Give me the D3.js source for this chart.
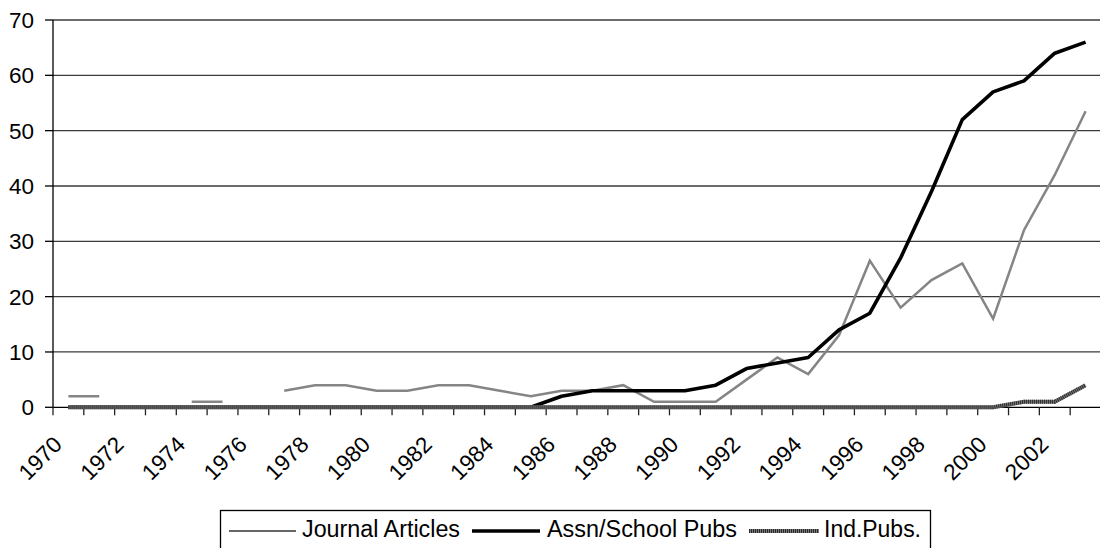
<!DOCTYPE html>
<html>
<head>
<meta charset="utf-8">
<script src="https://cdn.jsdelivr.net/npm/d3@7"></script>
<style>
  html, body { margin: 0; padding: 0; background: #fff; }
  svg { display: block; }
  text { font-family: "Liberation Sans", Arial, sans-serif; fill: #000; }
</style>
</head>
<body>
<svg id="chart" width="1100" height="548"></svg>
<script>
const years = d3.range(1970, 2004).map(String);
const yearLabels = years.filter((d, i) => i % 2 === 0);
const yTicks = [0, 10, 20, 30, 40, 50, 60, 70];

const journalArticles = [2, 2, null, null, 1, 1, null, 3, 4, 4, 3, 3, 4, 4, 3, 2, 3, 3, 4, 1, 1, 1, 5, 9, 6, 13, 26.5, 18, 23, 26, 16, 32, 42, 53.5];
const assnSchoolPubs = [0, 0, 0, 0, 0, 0, 0, 0, 0, 0, 0, 0, 0, 0, 0, 0, 2, 3, 3, 3, 3, 4, 7, 8, 9, 14, 17, 27, 39, 52, 57, 59, 64, 66];
const indPubs = [0, 0, 0, 0, 0, 0, 0, 0, 0, 0, 0, 0, 0, 0, 0, 0, 0, 0, 0, 0, 0, 0, 0, 0, 0, 0, 0, 0, 0, 0, 0, 1, 1, 4];
const seriesNames = ["Journal Articles", "Assn/School Pubs", "Ind.Pubs."];

const svg = d3.select("#chart");
const plotLeft = 53, plotRight = 1101, plotTop = 20, plotBottom = 407.3;

const x = d3.scaleBand().domain(years).range([plotLeft, plotRight]).paddingInner(0).paddingOuter(0);
const y = d3.scaleLinear().domain([0, 70]).range([plotBottom, plotTop]);
const cx = d => x(d) + x.bandwidth() / 2;

// gridlines
svg.append("g").selectAll("line").data(yTicks.filter(v => v > 0)).join("line")
  .attr("x1", plotLeft).attr("x2", 1100)
  .attr("y1", d => y(d)).attr("y2", d => y(d))
  .attr("stroke", "#3a3a3a").attr("stroke-width", 1.3);

// y axis
svg.append("line").attr("x1", plotLeft).attr("x2", plotLeft).attr("y1", y(70)).attr("y2", y(0))
  .attr("stroke", "#000").attr("stroke-width", 1.3);
svg.append("g").selectAll("line").data(yTicks).join("line")
  .attr("x1", plotLeft - 8).attr("x2", plotLeft)
  .attr("y1", d => y(d)).attr("y2", d => y(d))
  .attr("stroke", "#000").attr("stroke-width", 1.3);
svg.append("g").selectAll("text").data(yTicks).join("text")
  .attr("x", 34).attr("y", d => y(d)).attr("dy", "0.36em")
  .attr("text-anchor", "end").attr("font-size", 22.5).text(d => d);

// x axis
svg.append("line").attr("x1", plotLeft).attr("x2", 1100).attr("y1", y(0)).attr("y2", y(0))
  .attr("stroke", "#000").attr("stroke-width", 1.3);
const tickPos = years.map(d => x(d)).concat([x(years[years.length - 1]) + x.bandwidth()]);
svg.append("g").selectAll("line").data(tickPos).join("line")
  .attr("x1", d => d).attr("x2", d => d)
  .attr("y1", y(0)).attr("y2", y(0) + 8)
  .attr("stroke", "#222").attr("stroke-width", 1.3);
svg.append("g").selectAll("text").data(yearLabels).join("text")
  .attr("transform", d => `translate(${cx(d) - 5},446) rotate(-45)`)
  .attr("text-anchor", "end").attr("font-size", 22.5).text(d => d);

// lines
const line = d3.line().defined(d => d.v != null).x(d => cx(d.year)).y(d => y(d.v));
const toPts = arr => years.map((yr, i) => ({ year: yr, v: arr[i] }));

svg.append("path").datum(toPts(journalArticles)).attr("d", line)
  .attr("fill", "none").attr("stroke", "#858585").attr("stroke-width", 2.5)
  .attr("stroke-linejoin", "miter");
svg.append("path").datum(toPts(assnSchoolPubs)).attr("d", line)
  .attr("fill", "none").attr("stroke", "#000").attr("stroke-width", 3.6)
  .attr("stroke-linejoin", "round");
svg.append("path").datum(toPts(indPubs)).attr("d", line)
  .attr("fill", "none").attr("stroke", "#7a7a7a").attr("stroke-width", 4);
svg.append("path").datum(toPts(indPubs)).attr("d", line)
  .attr("fill", "none").attr("stroke", "#2a2a2a").attr("stroke-width", 4)
  .attr("stroke-dasharray", "1,1");

// legend
const lg = svg.append("g");
lg.append("rect").attr("x", 220.5).attr("y", 510.5).attr("width", 710).attr("height", 50)
  .attr("fill", "#fff").attr("stroke", "#000").attr("stroke-width", 1.3);
const legendItems = [
  { name: seriesNames[0], x1: 229, x2: 296, tx: 302, tw: 158 },
  { name: seriesNames[1], x1: 472, x2: 540, tx: 547, tw: 190 },
  { name: seriesNames[2], x1: 749, x2: 819, tx: 824, tw: 97 }
];
const ly = 531;
lg.append("line").attr("x1", legendItems[0].x1).attr("x2", legendItems[0].x2).attr("y1", ly).attr("y2", ly)
  .attr("stroke", "#333").attr("stroke-width", 1.5);
lg.append("line").attr("x1", legendItems[1].x1).attr("x2", legendItems[1].x2).attr("y1", ly).attr("y2", ly)
  .attr("stroke", "#000").attr("stroke-width", 3.6);
lg.append("line").attr("x1", legendItems[2].x1).attr("x2", legendItems[2].x2).attr("y1", ly).attr("y2", ly)
  .attr("stroke", "#7a7a7a").attr("stroke-width", 4);
lg.append("line").attr("x1", legendItems[2].x1).attr("x2", legendItems[2].x2).attr("y1", ly).attr("y2", ly)
  .attr("stroke", "#2a2a2a").attr("stroke-width", 4).attr("stroke-dasharray", "1,1");
lg.selectAll("text").data(legendItems).join("text")
  .attr("x", d => d.tx).attr("y", 537).attr("font-size", 23.5)
  .attr("textLength", d => d.tw).attr("lengthAdjust", "spacingAndGlyphs")
  .text(d => d.name);
</script>
</body>
</html>
